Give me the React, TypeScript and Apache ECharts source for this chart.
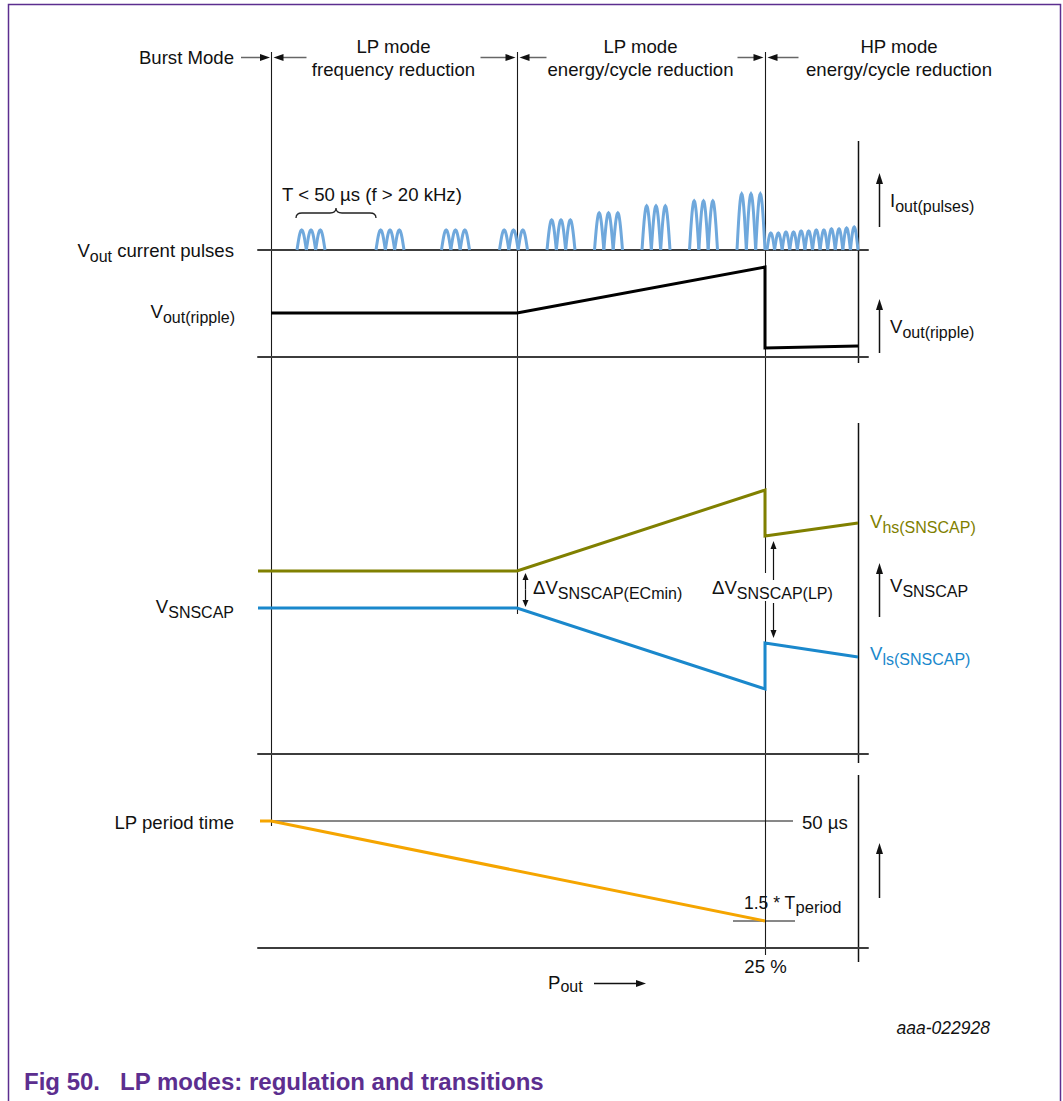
import React, { useEffect, useRef } from 'react';
import * as echarts from 'echarts';

const FONT = '"Liberation Sans", Arial, Helvetica, sans-serif';
const PURPLE = '#5c2e8f';
const INK = '#111111';
const MAIN_SIZE = 18.6;
const SUB_SIZE = 16;

// ---------- data (x in diagram units along P_out, 0 = left end of baselines) ----------
const X_MIN = 0;
const X_MAX = 610;
const modeBoundaryX = [13, 259, 507]; // burst | LP freq. reduction | LP energy/cycle | HP
const rightAxisX = 600;

const modeTitleTop = ['LP mode', 'LP mode', 'HP mode'];
const modeTitleBottom = ['frequency reduction', 'energy/cycle reduction', 'energy/cycle reduction'];

// current pulses (panel 1): groups of 3 half-sine pulses
const pulseGroupStart = [39, 118, 183.5, 241.5, 289, 336.5, 384, 431.5, 479];
const pulseGroupHeight = [20, 20, 20, 20, 30, 37, 44, 49, 56];
const PULSES_PER_GROUP = 3;
const PULSE_GROUP_WIDTH = 28;
const hpPulseRange = [509, 600];
const hpPulseHeight = [17, 17, 18, 18, 19, 19, 20, 20, 21, 21, 22, 23];

// output ripple (panel 2)
const rippleX = [13, 259, 507, 507, 600];
const rippleY = [44, 44, 90, 9, 11];

// SNSCAP levels (panel 3)
const snscapX = [0, 259, 507, 507, 600];
const vhsY = [183, 183, 264, 218, 231];
const vlsY = [146, 146, 65, 111, 97];

// LP period time (panel 4)
const lpPeriodX = [2, 13, 507];
const lpPeriodY = [127, 127, 27];
const lpMaxLevel = 127; // 50 µs
const lpMaxLineX = [13, 535];
const lpMinLevel = 27; // 1.5 * T_period
const lpMinLineX = [475, 537];

// ---------- layout ----------
const GRID_LEFT = 258;
const GRID_WIDTH = 610;
const panels = [
  { top: 141, height: 109 },
  { top: 250, height: 107 },
  { top: 423, height: 331 },
  { top: 775, height: 173 },
];

const BRACE_D =
  'M0,10 C0,6 2,5 6,5 L34,5 C38,5 40,4 40,0 C40,4 42,5 46,5 L74,5 C78,5 80,6 80,10';
let braceRegistered = false;
function ensureBrace() {
  if (braceRegistered) return;
  echarts.graphic.registerShape('brace', echarts.graphic.extendPath(BRACE_D, {}) as any);
  braceRegistered = true;
}

function buildArches(): number[][] {
  const out: number[][] = [];
  const w = PULSE_GROUP_WIDTH / PULSES_PER_GROUP;
  pulseGroupStart.forEach((s, g) => {
    for (let k = 0; k < PULSES_PER_GROUP; k++) {
      out.push([s + k * w, s + (k + 1) * w, pulseGroupHeight[g]]);
    }
  });
  const hw = (hpPulseRange[1] - hpPulseRange[0]) / hpPulseHeight.length;
  hpPulseHeight.forEach((h, i) => {
    out.push([hpPulseRange[0] + i * hw, hpPulseRange[0] + (i + 1) * hw, h]);
  });
  return out;
}

function pairs(xs: number[], ys: number[]) {
  return xs.map((x, i) => [x, ys[i]]);
}

function lineSeries(grid: number, data: number[][], color: string, width: number) {
  return {
    type: 'line',
    xAxisIndex: grid,
    yAxisIndex: grid,
    data,
    symbol: 'none',
    showSymbol: false,
    clip: false,
    silent: true,
    itemStyle: { color },
    lineStyle: { color, width, join: 'miter', cap: 'butt' },
  };
}

// ---------- graphic helpers ----------
function vline(x: number, y1: number, y2: number, color: string, w: number) {
  return { type: 'line', silent: true, shape: { x1: x, y1, x2: x, y2 }, style: { stroke: color, lineWidth: w } };
}
function arrow(
  x1: number, y1: number, x2: number, y2: number,
  color: string, lw: number, headLen: number, headHalf: number, headColor: string
) {
  const dx = x2 - x1;
  const dy = y2 - y1;
  const L = Math.hypot(dx, dy);
  const ux = dx / L;
  const uy = dy / L;
  const bx = x2 - ux * headLen;
  const by = y2 - uy * headLen;
  return [
    { type: 'line', silent: true, shape: { x1, y1, x2: bx + ux, y2: by + uy }, style: { stroke: color, lineWidth: lw } },
    {
      type: 'polygon', silent: true,
      shape: { points: [[x2, y2], [bx - uy * headHalf, by + ux * headHalf], [bx + uy * headHalf, by - ux * headHalf]] },
      style: { fill: headColor },
    },
  ];
}
function label(x: number, y: number, text: string, o: any = {}) {
  const style: any = {
    text,
    fontFamily: FONT,
    fontSize: o.size ?? MAIN_SIZE,
    fontWeight: o.weight ?? 'normal',
    fontStyle: o.italic ? 'italic' : 'normal',
    fill: o.color ?? INK,
    align: o.align ?? 'left',
    verticalAlign: 'middle',
  };
  if (o.bg) style.backgroundColor = o.bg;
  return { type: 'text', silent: true, x, y, style };
}
function subLabel(x: number, y: number, main: string, sub: string, o: any = {}) {
  const color = o.color ?? INK;
  const after = o.after ? `{m|${o.after}}` : '';
  const drop = o.drop ?? 12;
  const style: any = {
    text: `{m|${main}}{s|${sub}}${after}`,
    fontFamily: FONT,
    fontSize: MAIN_SIZE,
    fill: color,
    align: o.align ?? 'left',
    verticalAlign: 'middle',
    rich: {
      m: { fontFamily: FONT, fontSize: o.mainSize ?? MAIN_SIZE, fill: color, verticalAlign: 'middle' },
      s: { fontFamily: FONT, fontSize: o.subSize ?? SUB_SIZE, fill: color, verticalAlign: 'middle', padding: [drop, 0, 0, 0] },
    },
  };
  if (o.bg) style.backgroundColor = o.bg;
  return { type: 'text', silent: true, x, y, style };
}

function buildGraphic(P: (g: number, x: number, y: number) => number[]) {
  const els: any[] = [];
  const bx = modeBoundaryX.map((x) => Math.round(P(0, x, 0)[0]) + 0.5);
  const rx = Math.round(P(0, rightAxisX, 0)[0]) + 0.5;
  const HY = 57.5;

  // frame
  els.push({ type: 'rect', silent: true, shape: { x: 8.5, y: 4.5, width: 1052, height: 1200 }, style: { fill: 'none', stroke: PURPLE, lineWidth: 1.5 } });

  // mode boundaries
  const bEnds = [
    P(3, lpPeriodX[1], lpPeriodY[1])[1] + 5,
    P(2, snscapX[1], vlsY[1])[1] + 6,
    P(3, modeBoundaryX[2], 0)[1] + 7,
  ];
  bx.forEach((x, i) => els.push(vline(x, 52, bEnds[i], '#1a1a1a', 1.1)));

  // right-hand vertical axes
  els.push(vline(rx, panels[0].top, P(1, rightAxisX, 0)[1] + 6, INK, 1.5));
  els.push(vline(rx, panels[2].top, P(2, rightAxisX, 0)[1] + 9, INK, 1.5));
  els.push(vline(rx, panels[3].top, P(3, rightAxisX, 0)[1] + 14, INK, 1.5));

  // header arrows
  const ha = (from: number, to: number) => arrow(from, HY, to, HY, '#666', 1.5, 10, 3.5, '#111');
  els.push(...ha(241, bx[0] - 1.5));
  els.push(...ha(bx[0] + 35, bx[0] + 2));
  els.push(...ha(bx[1] - 37, bx[1] - 2));
  els.push(...ha(bx[1] + 29, bx[1] + 2));
  els.push(...ha(bx[2] - 28, bx[2] - 2));
  els.push(...ha(bx[2] + 33, bx[2] + 2));

  // header texts
  els.push(label(234, HY, 'Burst Mode', { align: 'right' }));
  const titleCx = [(bx[0] + bx[1]) / 2 - 1, (bx[1] + bx[2]) / 2 - 1, 899];
  titleCx.forEach((cx, i) => {
    els.push(label(cx, 46.5, modeTitleTop[i], { align: 'center' }));
    els.push(label(cx, 69, modeTitleBottom[i], { align: 'center' }));
  });

  // panel 1: current pulses
  els.push(subLabel(234, 250, 'V', 'out', { align: 'right', after: ' current pulses' }));
  els.push(label(282, 194, 'T < 50 µs (f > 20 kHz)'));
  const b0 = P(0, pulseGroupStart[0] - 1, 0)[0];
  const b1 = P(0, pulseGroupStart[1], 0)[0];
  els.push({ type: 'brace', silent: true, x: b0, y: 208, scaleX: (b1 - b0) / 80, scaleY: 1, style: { fill: 'none', stroke: '#222', lineWidth: 1.3 } });
  els.push(...arrow(879.5, 227, 879.5, 173, INK, 1.5, 11, 3.5, INK));
  els.push(subLabel(890, 200, 'I', 'out(pulses)'));

  // panel 2: ripple
  els.push(subLabel(235, 311, 'V', 'out(ripple)', { align: 'right' }));
  els.push(...arrow(879.5, 353, 879.5, 299, INK, 1.5, 11, 3.5, INK));
  els.push(subLabel(890, 326, 'V', 'out(ripple)'));

  // panel 3: SNSCAP
  els.push(subLabel(234, 606, 'V', 'SNSCAP', { align: 'right' }));
  const ecTop = P(2, modeBoundaryX[1], vhsY[1])[1];
  const ecBot = P(2, modeBoundaryX[1], vlsY[1])[1];
  els.push(...arrow(525.5, (ecTop + ecBot) / 2, 525.5, ecTop + 2, INK, 1.2, 7, 3, INK));
  els.push(...arrow(525.5, (ecTop + ecBot) / 2, 525.5, ecBot - 1, INK, 1.2, 7, 3, INK));
  els.push(subLabel(533, 587, 'ΔV', 'SNSCAP(ECmin)'));
  els.push(subLabel(712, 587, 'ΔV', 'SNSCAP(LP)', { bg: '#ffffff' }));
  const lpTop = P(2, modeBoundaryX[2], vhsY[3])[1];
  const lpBot = P(2, modeBoundaryX[2], vlsY[3])[1];
  els.push(...arrow(773.5, 580, 773.5, lpTop + 5, INK, 1.2, 8, 3, INK));
  els.push(...arrow(773.5, 603, 773.5, lpBot - 5, INK, 1.2, 8, 3, INK));
  const vhsEnd = P(2, snscapX[4], vhsY[4]);
  const vlsEnd = P(2, snscapX[4], vlsY[4]);
  els.push(subLabel(vhsEnd[0] + 12, vhsEnd[1] - 2, 'V', 'hs(SNSCAP)', { color: '#808000' }));
  els.push(subLabel(vlsEnd[0] + 12, vlsEnd[1] - 4, 'V', 'ls(SNSCAP)', { color: '#1a88cc' }));
  els.push(...arrow(879.5, 617, 879.5, 563, INK, 1.5, 11, 3.5, INK));
  els.push(subLabel(890, 585, 'V', 'SNSCAP'));

  // panel 4: LP period time
  const maxY = P(3, 0, lpMaxLevel)[1];
  const minY = P(3, 0, lpMinLevel)[1];
  els.push(label(234, maxY + 1, 'LP period time', { align: 'right' }));
  els.push(label(802, maxY + 1, '50 µs'));
  els.push(subLabel(744, minY - 18, '1.5 * T', 'period', { mainSize: 17.5, subSize: 16.5, drop: 7 }));
  els.push(label(bx[2], 966, '25 %', { align: 'center' }));
  els.push(subLabel(548, 982, 'P', 'out', { drop: 9 }));
  els.push(...arrow(594, 983.5, 646, 983.5, INK, 1.5, 10, 3.5, INK));
  els.push(...arrow(879.5, 898, 879.5, 843, INK, 1.5, 11, 3.5, INK));

  // footer
  els.push(label(990, 1028, 'aaa-022928', { align: 'right', italic: true, size: 17.5 }));
  els.push(label(24, 1081, 'Fig 50.\u00a0\u00a0\u00a0LP modes: regulation and transitions', { size: 24, weight: 'bold', color: PURPLE }));

  return els;
}

export default function App() {
  const ref = useRef<HTMLDivElement>(null);

  useEffect(() => {
    document.body.style.margin = '0';
    ensureBrace();
    const el = ref.current!;
    const chart = echarts.init(el, null, { renderer: 'svg' });
    const arches = buildArches();

    const option: any = {
      animation: false,
      backgroundColor: '#ffffff',
      textStyle: { fontFamily: FONT },
      grid: panels.map((p) => ({ left: GRID_LEFT, width: GRID_WIDTH, top: p.top, height: p.height })),
      xAxis: panels.map((_, i) => ({
        type: 'value',
        gridIndex: i,
        min: X_MIN,
        max: X_MAX,
        axisLine: { show: true, onZero: false, lineStyle: { color: '#3c3c3c', width: 2 } },
        axisTick: { show: false },
        axisLabel: { show: false },
        splitLine: { show: false },
      })),
      yAxis: panels.map((p, i) => ({ type: 'value', gridIndex: i, min: 0, max: p.height, show: false })),
      series: [
        {
          type: 'custom',
          xAxisIndex: 0,
          yAxisIndex: 0,
          clip: false,
          silent: true,
          data: arches,
          encode: { x: [0, 1], y: 2 },
          renderItem: (_params: any, api: any) => {
            const x0 = api.value(0);
            const x1 = api.value(1);
            const h = api.value(2);
            const pts: number[][] = [];
            const N = 18;
            for (let i = 0; i <= N; i++) {
              const t = i / N;
              pts.push(api.coord([x0 + (x1 - x0) * t, h * Math.sin(Math.PI * t)]));
            }
            return {
              type: 'polyline',
              shape: { points: pts },
              style: { stroke: '#6fa8dc', lineWidth: 3, fill: 'none' },
            };
          },
        },
        lineSeries(1, pairs(rippleX, rippleY), '#000000', 3),
        lineSeries(2, pairs(snscapX, vhsY), '#808000', 3),
        lineSeries(2, pairs(snscapX, vlsY), '#1a88cc', 3),
        lineSeries(3, lpMaxLineX.map((x) => [x, lpMaxLevel]), '#111111', 1),
        lineSeries(3, lpMinLineX.map((x) => [x, lpMinLevel]), '#111111', 1),
        lineSeries(3, pairs(lpPeriodX, lpPeriodY), '#f5a500', 3),
      ],
    };
    chart.setOption(option);

    const P = (g: number, x: number, y: number) =>
      chart.convertToPixel({ gridIndex: g } as any, [x, y]) as number[];
    chart.setOption({ graphic: { elements: buildGraphic(P) } });

    return () => chart.dispose();
  }, []);

  return <div ref={ref} style={{ width: 1063, height: 1101 }} />;
}
